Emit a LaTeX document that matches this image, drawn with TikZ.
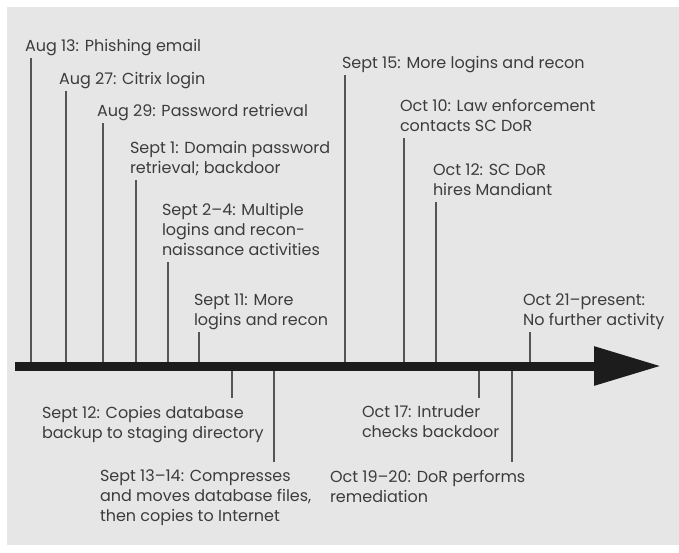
\documentclass[tikz,border=0pt]{standalone}
\usepackage{fontspec}
\setmainfont{Poppins}
\usetikzlibrary{arrows.meta}
\definecolor{bggray}{HTML}{E6E6E6}
\definecolor{txtgray}{HTML}{3C3C3C}
\definecolor{tickgray}{HTML}{555555}
\definecolor{axisblack}{HTML}{1C1C1C}

\begin{document}
\begin{tikzpicture}[x=1pt,y=-1pt,
 every node/.style={font=\fontsize{16}{20}\selectfont, text=txtgray, inner sep=0pt, align=left},
 uplabel/.style={anchor=south west, text depth=0pt, outer xsep=0pt, outer ysep=7pt},
 downlabel/.style={anchor=north west, outer xsep=0pt, outer ysep=8pt},
 tick/.style={draw=tickgray, line width=1.6pt},
 timeaxis/.style={draw=axisblack, line width=9pt, -{Triangle[length=67pt,width=37pt,fill=axisblack]}}]
 \useasboundingbox (0,0) rectangle (679,552);
 \fill[white] (0,0) rectangle (679,552);
 \fill[bggray] (7,7) rectangle (679,545);

 \coordinate (start) at (15,366);
 \coordinate (end) at (661,366);

 \node[uplabel] (l1) at (25,58) {Aug 13: Phishing email};
 \node[uplabel] (l2) at (59,91) {Aug 27: Citrix login};
 \node[uplabel] (l3) at (97,123) {Aug 29: Password retrieval};
 \node[uplabel] (l4) at (130,180) {Sept 1: Domain password\\retrieval; backdoor};
 \node[uplabel] (l5) at (162,262) {Sept 2--4: Multiple\\logins and recon-\\naissance activities};
 \node[uplabel] (l6) at (194,332) {Sept 11: More\\logins and recon};
 \node[uplabel] (l7) at (342,75) {Sept 15: More logins and recon};
 \node[uplabel] (l8) at (400,138) {Oct 10: Law enforcement\\contacts SC DoR};
 \node[uplabel] (l9) at (433,202) {Oct 12: SC DoR\\hires Mandiant};
 \node[uplabel] (l10) at (523,332) {Oct 21--present:\\No further activity};

 \node[downlabel] (b1) at (42,398) {Sept 12: Copies database\\backup to staging directory};
 \node[downlabel] (b2) at (100,462) {Sept 13--14: Compresses\\and moves database files,\\then copies to Internet};
 \node[downlabel] (b3) at (362,398) {Oct 17: Intruder\\checks backdoor};
 \node[downlabel] (b4) at (330,462) {Oct 19--20: DoR performs\\remediation};

 \coordinate (a1) at (31,366);
 \coordinate (a2) at (66,366);
 \coordinate (a3) at (103,366);
 \coordinate (a4) at (136,366);
 \coordinate (a5) at (168,366);
 \coordinate (a6) at (199,366);
 \coordinate (a7) at (345,366);
 \coordinate (a8) at (404,366);
 \coordinate (a9) at (436,366);
 \coordinate (a10) at (530,366);
 \coordinate (c1) at (232,366);
 \coordinate (c2) at (274,366);
 \coordinate (c3) at (479,366);
 \coordinate (c4) at (512,366);

 \foreach \i in {1,...,10}
  \draw[tick] (a\i) -- (a\i |- l\i.south);
 \foreach \i in {1,...,4}
  \draw[tick] (c\i) -- (c\i |- b\i.north);

 \draw[timeaxis] (start) -- (end);
\end{tikzpicture}
\end{document}
